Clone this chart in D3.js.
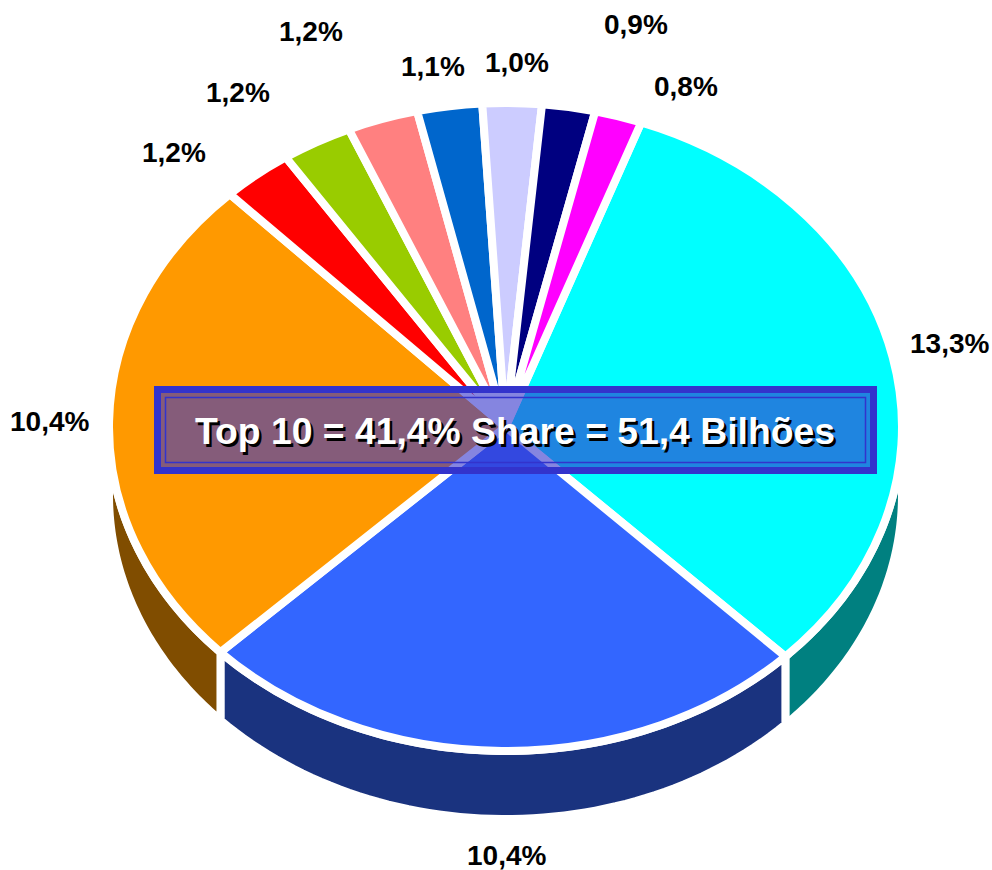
<!DOCTYPE html>
<html>
<head>
<meta charset="utf-8">
<script src="https://cdn.jsdelivr.net/npm/d3@7/dist/d3.min.js"></script>
<style>
html,body{margin:0;padding:0;background:#fff;}
svg{display:block;}
text{font-family:"Liberation Sans",Arial,sans-serif;font-weight:bold;}
</style>
</head>
<body>
<svg id="c" width="992" height="870"></svg>
<script>
const labels = ["13,3%","10,4%","10,4%","1,2%","1,2%","1,2%","1,1%","1,0%","0,9%","0,8%"];
const values = [13.3,10.5,10.4,1.2,1.2,1.2,1.1,1.0,0.9,0.8];
const topColors = ["#00ffff","#3366ff","#ff9900","#ff0000","#99cc00","#ff8080","#0066cc","#ccccff","#000080","#ff00ff"];
const sideColors = ["#008080","#1a337f","#804d00","#800000","#4d6600","#804040","#003366","#666680","#000040","#800080"];
const labelX = [910,467,10,142,206,279,401,485,604,654];
const labelY = [353,865,431,162,102,41,76,72,34,96];
const bandTitle = "Top 10 = 41,4% Share = 51,4 Bilhões";

const W=992,H=870,cx=505.5,cy=427,rx=396.5,ry=324,depth=68,gapW=8;
const svg=d3.select("#c");
const pie=d3.pie().sort(null).value(d=>d)
  .startAngle(20*Math.PI/180).endAngle((360+20)*Math.PI/180);
const arcs=pie(values);
const yScale=ry/rx;
const arc=d3.arc().innerRadius(0).outerRadius(rx);

// side walls: only the front half of the ellipse (90deg..270deg) is visible
const line=d3.line();
const PI=Math.PI;
const pt=(a,dy)=>[cx+rx*Math.sin(a), cy-ry*Math.cos(a)+dy];
const walls=svg.append("g");
arcs.forEach((s,i)=>{
  const a0=Math.max(s.startAngle,PI/2), a1=Math.min(s.endAngle,3*PI/2);
  if(a1<=a0) return;
  const as=d3.range(0,61).map(k=>a0+(a1-a0)*k/60);
  const pts=as.map(a=>pt(a,depth)).concat(as.slice().reverse().map(a=>pt(a,0)));
  walls.append("path").attr("d",line(pts)+"Z")
    .attr("fill",sideColors[i]).attr("stroke","#fff").attr("stroke-width",gapW)
    .attr("stroke-linejoin","miter");
});

// top surface
const topG=svg.append("g").attr("transform",`translate(${cx},${cy}) scale(1,${yScale})`);
topG.selectAll("path").data(arcs).join("path")
  .attr("d",arc)
  .attr("fill",(d,i)=>topColors[i])
  .attr("stroke","#fff")
  .attr("stroke-width",gapW)
  .attr("stroke-linejoin","miter")
  .attr("vector-effect","non-scaling-stroke");

// labels
svg.append("g").selectAll("text").data(labels).join("text")
  .attr("x",(d,i)=>labelX[i]).attr("y",(d,i)=>labelY[i])
  .attr("font-size",28).attr("fill","#000").text(d=>d);

// band
const bx=154,by=386,bw=723,bh=88,inset=7;
const g=svg.append("g");
g.append("rect").attr("x",bx+inset).attr("y",by+inset).attr("width",bw-2*inset).attr("height",bh-2*inset)
  .attr("fill","#3333cc").attr("fill-opacity",0.6);
g.append("path").attr("fill","#3333cc").attr("fill-rule","evenodd")
  .attr("d",`M${bx},${by}h${bw}v${bh}h${-bw}Z M${bx+inset},${by+inset}v${bh-2*inset}h${bw-2*inset}v${-(bh-2*inset)}Z`);
g.append("rect").attr("x",bx+11.5).attr("y",by+11.5).attr("width",bw-23).attr("height",bh-23)
  .attr("fill","none").attr("stroke","#3333cc").attr("stroke-width",1.5);
const tx=bx+bw/2-0.5, ty=444;
g.append("text").attr("x",tx+2.5).attr("y",ty+2.5).attr("text-anchor","middle")
  .attr("font-size",37.3).attr("fill","#000").text(bandTitle);
g.append("text").attr("x",tx).attr("y",ty).attr("text-anchor","middle")
  .attr("font-size",37.3).attr("fill","#fff").text(bandTitle);
</script>
</body>
</html>
